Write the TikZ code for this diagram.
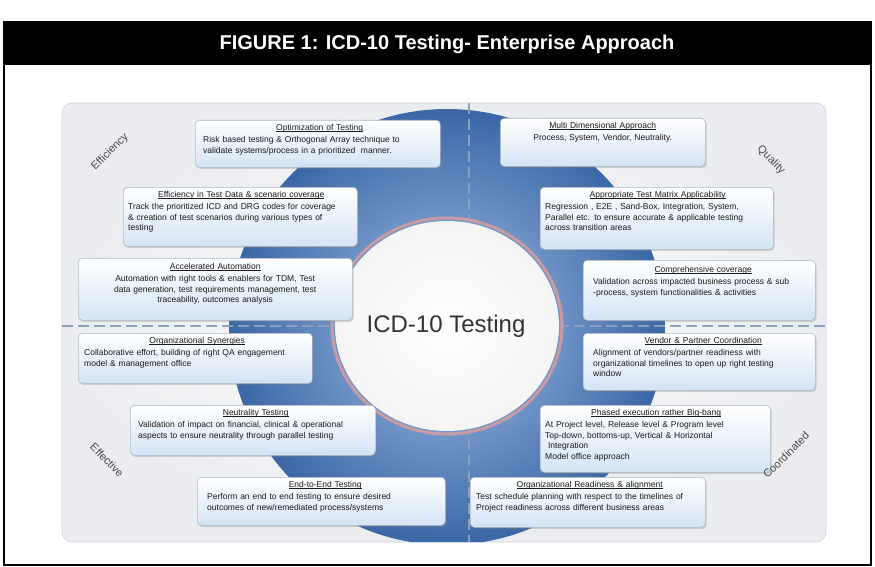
\documentclass[tikz,border=0pt]{standalone}
\usepackage{fontspec}
\setmainfont{Liberation Sans}
\usetikzlibrary{shadows}

\definecolor{cardblue}{HTML}{D3E4F5}
\definecolor{cardline}{HTML}{AEB9C6}
\definecolor{cardink}{HTML}{1A1A1A}
\definecolor{panelrim}{HTML}{EAECEF}
\definecolor{paneledge}{HTML}{CCD0D6}
\definecolor{dashblue}{HTML}{8AA0BF}
\definecolor{discin}{HTML}{A3C2E9}
\definecolor{discout}{HTML}{3A67A5}
\definecolor{halo}{HTML}{DE9C9C}
\definecolor{cornerink}{HTML}{4A4A4A}

% heading of a card: a thin rule just under the baseline
\newcommand\cardhead[1]{\setbox0\hbox{#1}\rlap{\rule[-1.3pt]{\wd0}{0.35pt}}\box0}
% title centred, body set ragged right
\newcommand\cardbody[2]{{\centering\cardhead{#1}\par}\vspace{1.2pt}\raggedright #2\par}
% title and body both centred
\newcommand\cardbodyc[2]{\centering\cardhead{#1}\par\vspace{1.2pt}#2\par}

\tikzset{
  card/.style={draw=cardline, line width=0.6pt, rounded corners=4pt,
    top color=white, bottom color=cardblue, anchor=north west, inner sep=0pt,
    drop shadow={opacity=0.3, shadow xshift=1.2pt, shadow yshift=-1.6pt}},
  cardtext/.style={anchor=north west, inner sep=0pt, text=cardink,
    font=\fontsize{8.5}{10.8}\selectfont},
  corner/.style={font=\fontsize{11}{13}\selectfont, text=cornerink},
  divider/.style={draw=dashblue, line width=2pt, dash pattern=on 11pt off 5pt},
}

\begin{document}
\begin{tikzpicture}[x=1pt,y=-1pt]
\useasboundingbox (0,0) rectangle (875,567);

% outer frame and heading bar
\fill[white] (0,0) rectangle (875,567);
\draw[black, line width=1.2pt] (4,22) rectangle (871,565);
\fill[black] (4,22) rectangle (871,65);
\node[text=white, font=\fontsize{20}{24}\selectfont\bfseries] (heading) at (447,44)
  {FIGURE 1: ICD-10 Testing- Enterprise Approach};

% background panel
\shade[rounded corners=10pt, inner color=white, outer color=panelrim, draw=paneledge, line width=0.6pt]
  (62,103) rectangle (826,542);

% blue disc, kept inside the panel
\begin{scope}
  \clip[rounded corners=10pt] (62,103) rectangle (826,542);
  \shade[inner color=discin, outer color=discout] (447,327) circle (218);
  \draw[divider] (62,326) -- (826,326);
  \draw[divider] (469,103) -- (469,542);
\end{scope}

% white hub with reddish halo
\draw[halo, line width=3pt, opacity=0.8] (447,326) ellipse (115 and 108);
\shade[inner color=white, outer color=white!92!gray] (447,326) ellipse (112 and 105);
\node[font=\fontsize{24}{28}\selectfont, text=black!80] (hub) at (446,326) {ICD-10 Testing};

% cards, top row to bottom row
\node[card, minimum width=245pt, minimum height=47pt] (opt) at (195,120) {};
\node[cardtext, text width=233pt] (optT) at ([xshift=8pt,yshift=-4pt]opt.north west)
  {\cardbody{Optimization of Testing}{Risk based testing \& Orthogonal Array technique to\\ validate systems/process in a prioritized \ manner.}};

\node[card, minimum width=205pt, minimum height=48pt] (multi) at (500,118) {};
\node[cardtext, text width=193pt] (multiT) at ([xshift=6pt,yshift=-4pt]multi.north west)
  {\cardbodyc{Multi Dimensional Approach}{Process, System, Vendor, Neutrality.}};

\node[card, minimum width=234pt, minimum height=59pt] (eff) at (123,187) {};
\node[cardtext, text width=226pt] (effT) at ([xshift=5pt,yshift=-4pt]eff.north west)
  {\cardbody{Efficiency in Test Data \& scenario coverage}{Track the prioritized ICD and DRG codes for coverage\\ \& creation of test scenarios during various types of\\ testing}};

\node[card, minimum width=233pt, minimum height=62pt] (matrix) at (540,187) {};
\node[cardtext, text width=225pt] (matrixT) at ([xshift=5pt,yshift=-4pt]matrix.north west)
  {\cardbody{Appropriate Test Matrix Applicability}{Regression , E2E , Sand-Box, Integration, System,\\ Parallel etc. to ensure accurate \& applicable testing\\ across transition areas}};

\node[card, minimum width=274pt, minimum height=62pt] (accel) at (78,258) {};
\node[cardtext, text width=262pt] (accelT) at ([xshift=6pt,yshift=-5pt]accel.north west)
  {\cardbodyc{Accelerated Automation}{Automation with right tools \& enablers for TDM, Test\\ data generation, test requirements management, test\\ traceability, outcomes analysis}};

\node[card, minimum width=232pt, minimum height=60pt] (cover) at (583,260) {};
\node[cardtext, text width=220pt] (coverT) at ([xshift=10pt,yshift=-6pt]cover.north west)
  {\cardbody{Comprehensive coverage}{Validation across impacted business process \& sub\\ -process, system functionalities \& activities}};

\node[card, minimum width=234pt, minimum height=50pt] (syn) at (78,333) {};
\node[cardtext, text width=226pt] (synT) at ([xshift=6pt,yshift=-4pt]syn.north west)
  {\cardbody{Organizational Synergies}{Collaborative effort, building of right QA engagement\\ model \& management office}};

\node[card, minimum width=232pt, minimum height=57pt] (vendor) at (583,333) {};
\node[cardtext, text width=220pt] (vendorT) at ([xshift=10pt,yshift=-4pt]vendor.north west)
  {\cardbody{Vendor \& Partner Coordination}{Alignment of vendors/partner readiness with\\ organizational timelines to open up right testing\\ window}};

\node[card, minimum width=245pt, minimum height=50pt] (neutral) at (130,405) {};
\node[cardtext, text width=235pt] (neutralT) at ([xshift=8pt,yshift=-4pt]neutral.north west)
  {\cardbody{Neutrality Testing}{Validation of impact on financial, clinical \& operational\\ aspects to ensure neutrality through parallel testing}};

\node[card, minimum width=230pt, minimum height=67pt] (phased) at (540,405) {};
\node[cardtext, text width=222pt] (phasedT) at ([xshift=5pt,yshift=-4pt]phased.north west)
  {\cardbody{Phased execution rather Big-bang}{At Project level, Release level \& Program level\\ Top-down, bottoms-up, Vertical \& Horizontal\\ \ Integration\\ Model office approach}};

\node[card, minimum width=248pt, minimum height=48pt] (e2e) at (197,477) {};
\node[cardtext, text width=236pt] (e2eT) at ([xshift=10pt,yshift=-4pt]e2e.north west)
  {\cardbody{End-to-End Testing}{Perform an end to end testing to ensure desired\\ outcomes of new/remediated process/systems}};

\node[card, minimum width=235pt, minimum height=50pt] (ready) at (470,477) {};
\node[cardtext, text width=227pt] (readyT) at ([xshift=6pt,yshift=-4pt]ready.north west)
  {\cardbody{Organizational Readiness \& alignment}{Test schedule planning with respect to the timelines of\\ Project readiness across different business areas}};

% quadrant captions
\node[corner, rotate=45]  (effc)  at (110,152) {Efficiency};
\node[corner, rotate=-45] (qual)  at (771,160) {Quality};
\node[corner, rotate=-45] (efv)   at (107,460) {Effective};
\node[corner, rotate=45]  (coord) at (786,455) {Coordinated};
\end{tikzpicture}
\end{document}
